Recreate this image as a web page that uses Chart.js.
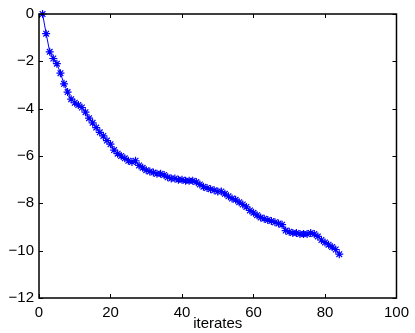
<!DOCTYPE html>
<html>
<head>
<meta charset="utf-8">
<script src="https://cdn.jsdelivr.net/npm/chart.js@4"></script>
<style>
  html, body { margin: 0; padding: 0; background: #fff; }
  #wrap { width: 415px; height: 333px; }
</style>
</head>
<body>
<div id="wrap"><canvas id="chart"></canvas></div>
<script>
// iterations 1..84
const iterates = [];
for (let i = 1; i <= 84; i++) iterates.push(i);

// values
const values = [
  0, -0.83, -1.6, -1.88, -2.1, -2.5, -2.95, -3.3, -3.6, -3.75,
  -3.85, -3.95, -4.15, -4.4, -4.6, -4.8, -5.0, -5.15, -5.35, -5.5,
  -5.75, -5.9, -6.0, -6.1, -6.2, -6.25, -6.2, -6.4, -6.5, -6.6,
  -6.65, -6.7, -6.75, -6.75, -6.8, -6.9, -6.95, -6.95, -7.0, -7.0,
  -7.05, -7.05, -7.05, -7.1, -7.2, -7.3, -7.35, -7.4, -7.45, -7.5,
  -7.5, -7.6, -7.7, -7.8, -7.85, -7.95, -8.05, -8.15, -8.3, -8.4,
  -8.5, -8.6, -8.65, -8.7, -8.75, -8.8, -8.85, -8.9, -9.15, -9.2,
  -9.25, -9.25, -9.3, -9.3, -9.3, -9.25, -9.3, -9.4, -9.55, -9.65,
  -9.75, -9.85, -9.95, -10.15
];

const xTicks = [0, 20, 40, 60, 80, 100];
const yTicks = [-12, -10, -8, -6, -4, -2, 0];

const points = iterates.map((x, i) => ({ x: x, y: values[i] }));

// MATLAB style box with inward ticks
const boxPlugin = {
  id: "box",
  afterDraw(chart) {
    const ctx = chart.ctx;
    const a = chart.chartArea;
    const xs = chart.scales.x, ys = chart.scales.y;
    ctx.save();
    ctx.strokeStyle = "#000";
    ctx.lineWidth = 1;
    xTicks.forEach(v => {
      const px = Math.round(xs.getPixelForValue(v)) + 0.5;
      ctx.beginPath();
      ctx.moveTo(px, a.bottom); ctx.lineTo(px, a.bottom - 4);
      ctx.moveTo(px, a.top); ctx.lineTo(px, a.top + 4);
      ctx.stroke();
    });
    yTicks.forEach(v => {
      const py = Math.round(ys.getPixelForValue(v)) + 0.5;
      ctx.beginPath();
      ctx.moveTo(a.left, py); ctx.lineTo(a.left + 4, py);
      ctx.moveTo(a.right, py); ctx.lineTo(a.right - 4, py);
      ctx.stroke();
    });
    ctx.lineWidth = 1.5;
    ctx.strokeRect(a.left, a.top, a.right - a.left, a.bottom - a.top);
    ctx.restore();
  }
};

const minus = v => String(v).replace("-", "\u2212");

new Chart(document.getElementById("chart"), {
  type: "line",
  data: {
    datasets: [{
      data: points,
      borderColor: "#0000ff",
      backgroundColor: "#0000ff",
      borderWidth: 1,
      pointStyle: "star",
      pointRadius: 4,
      pointBorderWidth: 1.2,
      pointBorderColor: "#0000ff",
      tension: 0,
      clip: false
    }]
  },
  options: {
    responsive: true,
    maintainAspectRatio: false,
    animation: false,
    layout: { padding: { top: 13, right: 15, left: 0, bottom: 0 } },
    plugins: { legend: { display: false }, tooltip: { enabled: false } },
    scales: {
      x: {
        type: "linear",
        min: 0, max: 100,
        grid: { display: false, drawTicks: false },
        border: { display: false },
        afterBuildTicks: s => { s.ticks = xTicks.map(v => ({ value: v })); },
        afterFit: s => { s.height = 35; },
        ticks: {
          color: "#000",
          padding: 6,
          maxRotation: 0,
          font: { family: "Liberation Sans, Arial, sans-serif", size: 15 },
          callback: v => minus(v)
        },
        title: {
          display: true,
          text: "iterates",
          color: "#000",
          padding: { top: 0, bottom: 0 },
          font: { family: "Liberation Sans, Arial, sans-serif", size: 15 }
        }
      },
      y: {
        min: -12, max: 0,
        grid: { display: false, drawTicks: false },
        border: { display: false },
        afterBuildTicks: s => { s.ticks = yTicks.map(v => ({ value: v })); },
        afterFit: s => { s.width = 39; },
        ticks: {
          color: "#000",
          padding: 5,
          font: { family: "Liberation Sans, Arial, sans-serif", size: 15 },
          callback: v => minus(v)
        }
      }
    }
  },
  plugins: [boxPlugin]
});
</script>
</body>
</html>
